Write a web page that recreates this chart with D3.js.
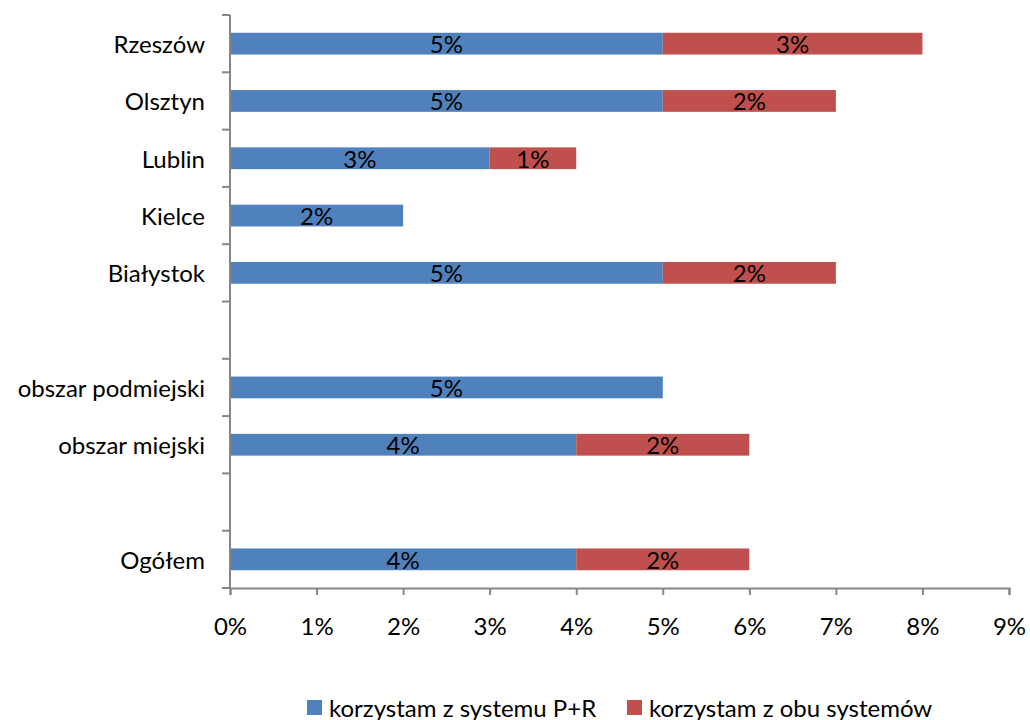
<!DOCTYPE html>
<html>
<head>
<meta charset="utf-8">
<script src="https://cdn.jsdelivr.net/npm/d3@7"></script>
<style>
  html, body { margin: 0; padding: 0; background: #fff; }
  svg { display: block; }
  text { font-family: Lato, "Open Sans", sans-serif; fill: #000; }
</style>
</head>
<body>
<svg id="chart" width="1030" height="720"></svg>
<script>
// Rows from top to bottom; empty strings are spacer rows
const categories = ["Rzeszów", "Olsztyn", "Lublin", "Kielce", "Białystok", "", "obszar podmiejski", "obszar miejski", "", "Ogółem"];
// Share of respondents (%)
const parkAndRide = [5, 5, 3, 2, 5, 0, 5, 4, 0, 4];
const bothSystems = [3, 2, 1, 0, 2, 0, 0, 2, 0, 2];
const xTicks = [0, 1, 2, 3, 4, 5, 6, 7, 8, 9];
const seriesNames = ["korzystam z systemu P+R", "korzystam z obu systemów"];
const colors = ["#4F81BD", "#C0504D"];

const fontSize = "24px";
const svg = d3.select("#chart");
const plot = { left: 230, right: 1009, top: 15, bottom: 588 };

const x = d3.scaleLinear().domain([0, 9]).range([plot.left, plot.right]);
const y = d3.scaleBand()
  .domain(d3.range(categories.length))
  .range([plot.top, plot.bottom])
  .paddingInner(0.62)
  .paddingOuter(0.31);

const rows = categories.map((name, i) => ({ name, i, a: parkAndRide[i], b: bothSystems[i] }));
const stackData = rows.map(r => ({ i: r.i, s0: r.a, s1: r.b }));
const stacked = d3.stack().keys(["s0", "s1"])(stackData);

// Bars
const layers = svg.append("g").selectAll("g")
  .data(stacked)
  .join("g")
  .attr("fill", (d, k) => colors[k]);

layers.selectAll("rect")
  .data(d => d.filter(p => p[1] - p[0] > 0))
  .join("rect")
  .attr("x", p => x(p[0]))
  .attr("width", p => x(p[1]) - x(p[0]))
  .attr("y", p => y(p.data.i))
  .attr("height", y.bandwidth());

// Value labels centred in each segment
layers.selectAll("text")
  .data(d => d.filter(p => p[1] - p[0] > 0))
  .join("text")
  .attr("x", p => (x(p[0]) + x(p[1])) / 2)
  .attr("y", p => y(p.data.i) + y.bandwidth() / 2)
  .attr("text-anchor", "middle")
  .attr("dominant-baseline", "central")
  .style("font-size", fontSize)
  .text(p => (p[1] - p[0]) + "%");

// Axes
const axisColor = "#868686";
const step = y.step();
const boundaries = d3.range(categories.length + 1).map(k => plot.top + k * step);

const yAxis = svg.append("g");
yAxis.append("line")
  .attr("x1", plot.left).attr("x2", plot.left)
  .attr("y1", plot.top).attr("y2", plot.bottom)
  .attr("stroke", axisColor).attr("stroke-width", 2);
yAxis.selectAll("line.tick")
  .data(boundaries)
  .join("line")
  .attr("class", "tick")
  .attr("x1", plot.left - 8).attr("x2", plot.left)
  .attr("y1", d => d).attr("y2", d => d)
  .attr("stroke", axisColor).attr("stroke-width", 2);
yAxis.selectAll("text")
  .data(rows.filter(r => r.name))
  .join("text")
  .attr("x", plot.left - 25)
  .attr("y", r => y(r.i) + y.bandwidth() / 2)
  .attr("text-anchor", "end")
  .attr("dominant-baseline", "central")
  .style("font-size", fontSize)
  .text(r => r.name);

const xAxis = svg.append("g")
  .attr("transform", `translate(0,${plot.bottom})`)
  .call(d3.axisBottom(x).tickValues(xTicks).tickSize(7).tickPadding(23).tickFormat(d => d + "%"));
xAxis.select(".domain").attr("stroke", axisColor).attr("stroke-width", 2);
xAxis.selectAll(".tick line").attr("stroke", axisColor).attr("stroke-width", 2);
xAxis.selectAll(".tick text")
  .style("font-size", fontSize)
  .style("font-family", "Lato, 'Open Sans', sans-serif")
  .attr("fill", "#000");

// Legend
const legendItems = [{ x: 307 }, { x: 627 }];
const legend = svg.append("g").selectAll("g")
  .data(seriesNames)
  .join("g")
  .attr("transform", (d, k) => `translate(${legendItems[k].x},700)`);
legend.append("rect")
  .attr("width", 15).attr("height", 15)
  .attr("fill", (d, k) => colors[k]);
legend.append("text")
  .attr("x", 22).attr("y", 7)
  .attr("dominant-baseline", "central")
  .style("font-size", fontSize)
  .text(d => d);
</script>
</body>
</html>
